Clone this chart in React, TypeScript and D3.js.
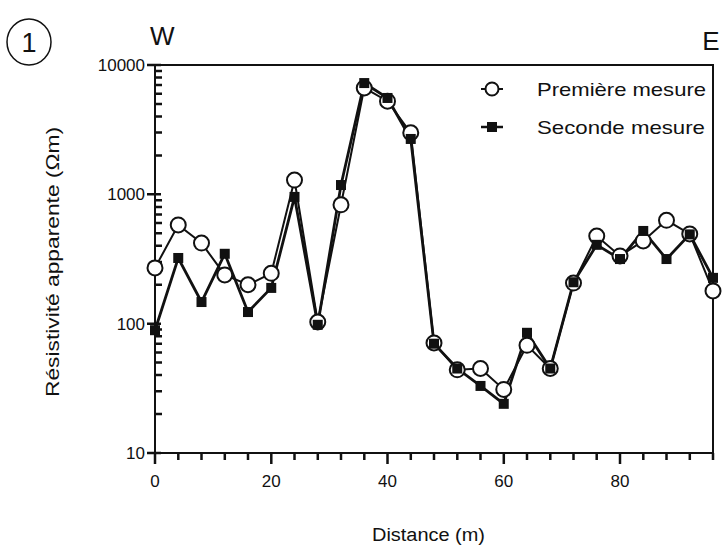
import React from "react";
import * as d3 from "d3";

const distances = [0, 4, 8, 12, 16, 20, 24, 28, 32, 36, 40, 44, 48, 52, 56, 60, 64, 68, 72, 76, 80, 84, 88, 92, 96];
const premiere = [270, 580, 420, 238, 200, 245, 1290, 103, 830, 6650, 5250, 2990, 71, 44, 45, 31, 68, 45, 206, 476, 334, 436, 630, 494, 179];
const seconde = [89, 322, 147, 347, 123, 189, 955, 98, 1180, 7250, 5560, 2680, 70, 45, 33, 24, 85, 45, 209, 407, 316, 521, 316, 490, 226];
const xTicks = [0, 20, 40, 60, 80];
const yTicks = [10, 100, 1000, 10000];
const seriesNames = ["Première mesure", "Seconde mesure"];

const W = 727, H = 553;
const L = 155, R = 713, T = 65, B = 453;
const font = "'Liberation Sans', Arial, Helvetica, sans-serif";

export default function App() {
  const x = d3.scaleLinear().domain([0, 96]).range([L, R]);
  const y = d3.scaleLog().domain([10, 10000]).range([B, T]);
  const line = d3.line<[number, number]>().x(d => x(d[0])).y(d => y(d[1]));
  const p1 = distances.map((d, i) => [d, premiere[i]] as [number, number]);
  const p2 = distances.map((d, i) => [d, seconde[i]] as [number, number]);

  const xMinor = d3.range(0, 97, 4);
  const yMinor: number[] = [];
  for (let e = 1; e < 4; e++) for (let k = 2; k <= 9; k++) yMinor.push(k * Math.pow(10, e));

  const tickPath =
    yMinor.map(v => `M${L},${y(v).toFixed(1)}H${L + 7}`).join(" ") + " " +
    yTicks.map(v => `M${L - 8},${y(v).toFixed(1)}H${L + 6}`).join(" ") + " " +
    xMinor.map(v => `M${x(v).toFixed(1)},${B}V${B + 7}`).join(" ") + " " +
    xTicks.map(v => `M${x(v).toFixed(1)},${B}V${B + 11}`).join(" ");

  return (
    <svg width={W} height={H} style={{ position: "absolute", left: 0, top: 0, background: "#fff" }} fontFamily={font}>
      {/* panel id and orientation */}
      <ellipse cx={29} cy={42} rx={22} ry={23} fill="none" stroke="#111" strokeWidth={1.5} />
      <text x={29} y={52} textAnchor="middle" fontSize={27} fill="#111">1</text>
      <text x={150} y={45} fontSize={26} fill="#111">W</text>
      <text x={711} y={50} fontSize={26} fill="#111" textAnchor="middle">E</text>

      {/* frame */}
      <rect x={L} y={T} width={R - L} height={B - T} fill="none" stroke="#111" strokeWidth={2} />

      {/* ticks */}
      <path d={tickPath} fill="none" stroke="#111" strokeWidth={2.5} />

      {yTicks.map(v => (
        <text key={"y" + v} x={L - 10} y={y(v) + 6} textAnchor="end" fontSize={17} fill="#111">{v}</text>
      ))}
      {xTicks.map(v => (
        <text key={"x" + v} x={x(v)} y={B + 34} textAnchor="middle" fontSize={17} fill="#111">{v}</text>
      ))}

      {/* axis titles */}
      <text x={372} y={541} fontSize={18} fill="#111" textLength={113} lengthAdjust="spacingAndGlyphs">Distance (m)</text>
      <text transform={`translate(59,397) rotate(-90)`} fontSize={18} fill="#111" textLength={270} lengthAdjust="spacingAndGlyphs">Résistivité apparente (Ωm)</text>

      {/* series 1 */}
      <path d={line(p1) || ""} fill="none" stroke="#111" strokeWidth={2} />
      {/* series 2 */}
      <path d={line(p2) || ""} fill="none" stroke="#111" strokeWidth={2.8} />
      {p1.map((p, i) => (
        <circle key={"c" + i} cx={x(p[0])} cy={y(p[1])} r={7.5} fill="#fff" stroke="#111" strokeWidth={2} />
      ))}
      {p2.map((p, i) => (
        <rect key={"s" + i} x={x(p[0]) - 5} y={y(p[1]) - 5} width={10} height={10} fill="#111" />
      ))}

      {/* legend */}
      <line x1={481} x2={503} y1={89} y2={89} stroke="#111" strokeWidth={2} />
      <circle cx={492} cy={89} r={6.5} fill="#fff" stroke="#111" strokeWidth={2} />
      <text x={537} y={96} fontSize={19} fill="#111" textLength={169} lengthAdjust="spacingAndGlyphs">{seriesNames[0]}</text>
      <line x1={481} x2={503} y1={127} y2={127} stroke="#111" strokeWidth={2.5} />
      <rect x={487} y={122} width={10} height={10} fill="#111" />
      <text x={537} y={134} fontSize={19} fill="#111" textLength={168} lengthAdjust="spacingAndGlyphs">{seriesNames[1]}</text>
    </svg>
  );
}
